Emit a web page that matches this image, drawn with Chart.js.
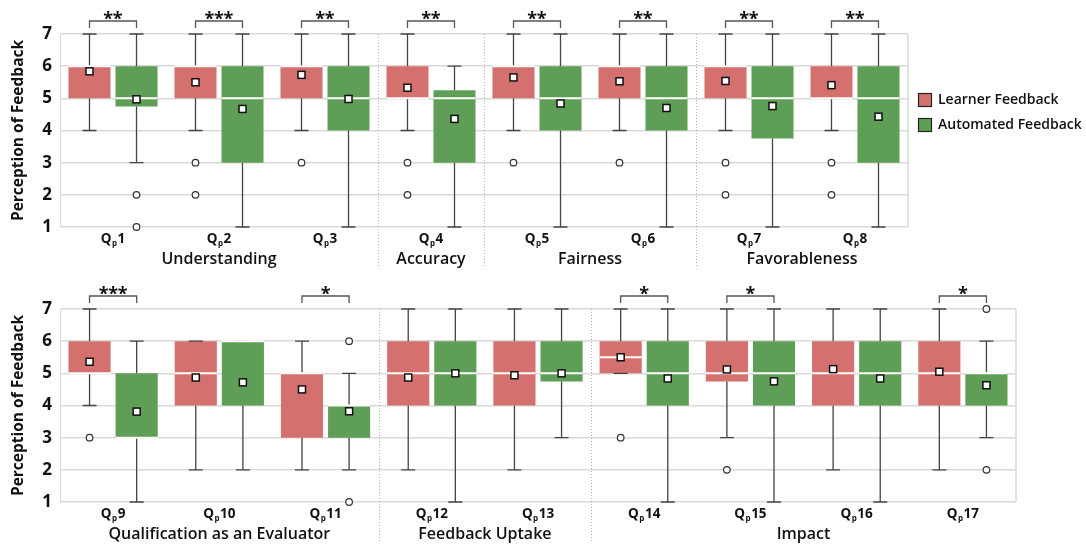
<!DOCTYPE html>
<html>
<head>
<meta charset="utf-8">
<script src="https://cdn.jsdelivr.net/npm/chart.js@4.4.1/dist/chart.umd.min.js"></script>
<style>
  body { margin: 0; background: #fff; }
  .panel { position: absolute; left: 0; width: 1086px; height: 270px; }
</style>
</head>
<body>
<div class="panel" style="top:0"><canvas id="topChart" width="1086" height="270"></canvas></div>
<div class="panel" style="top:275px"><canvas id="bottomChart" width="1086" height="270"></canvas></div>
<script>
// ---- data: top panel (Qp1 - Qp8) ----
var topQuestions = ['1', '2', '3', '4', '5', '6', '7', '8'];
var topGroupNames = ['Understanding', 'Accuracy', 'Fairness', 'Favorableness'];
var topGroupFirst = [0, 3, 4, 6];
var topGroupLast = [2, 3, 5, 7];
var topSignif = ['**', '***', '**', '**', '**', '**', '**', '**'];

var topLearnerQ1 = [5, 5, 5, 5, 5, 5, 5, 5];
var topLearnerMedian = [6, 6, 6, 5, 6, 6, 6, 5];
var topLearnerQ3 = [6, 6, 6, 6, 6, 6, 6, 6];
var topLearnerLow = [4, 4, 4, 4, 4, 4, 4, 4];
var topLearnerHigh = [7, 7, 7, 7, 7, 7, 7, 7];
var topLearnerMean = [5.84, 5.5, 5.73, 5.33, 5.65, 5.53, 5.54, 5.41];
var topLearnerOut = [[], [3, 2], [3], [3, 2], [3], [3], [3, 2], [3, 2]];

var topAutoQ1 = [4.75, 3, 4, 3, 4, 4, 3.75, 3];
var topAutoMedian = [5, 5, 5, 5, 5, 5, 5, 5];
var topAutoQ3 = [6, 6, 6, 5.25, 6, 6, 6, 6];
var topAutoLow = [3, 1, 1, 1, 1, 1, 1, 1];
var topAutoHigh = [7, 7, 7, 6, 7, 7, 7, 7];
var topAutoMean = [4.97, 4.67, 4.98, 4.36, 4.84, 4.70, 4.76, 4.43];
var topAutoOut = [[2, 1], [], [], [], [], [], [], []];

// ---- data: bottom panel (Qp9 - Qp17) ----
var botQuestions = ['9', '10', '11', '12', '13', '14', '15', '16', '17'];
var botGroupNames = ['Qualification as an Evaluator', 'Feedback Uptake', 'Impact'];
var botGroupFirst = [0, 3, 5];
var botGroupLast = [2, 4, 8];
var botSignif = ['***', '', '*', '', '', '*', '*', '', '*'];

var botLearnerQ1 = [5, 4, 3, 4, 4, 5, 4.75, 4, 4];
var botLearnerMedian = [5, 5, 5, 5, 5, 5.5, 5, 5, 5];
var botLearnerQ3 = [6, 6, 5, 6, 6, 6, 6, 6, 6];
var botLearnerLow = [4, 2, 2, 2, 2, 5, 3, 2, 2];
var botLearnerHigh = [7, 6, 6, 7, 7, 7, 7, 7, 7];
var botLearnerMean = [5.36, 4.87, 4.5, 4.87, 4.94, 5.5, 5.12, 5.13, 5.05];
var botLearnerOut = [[3], [], [], [], [], [3], [2], [], []];

var botAutoQ1 = [3, 4, 3, 4, 4.75, 4, 4, 4, 4];
var botAutoMedian = [3, 6, 4, 5, 5, 5, 5, 5, 5];
var botAutoQ3 = [5, 6, 4, 6, 6, 6, 6, 6, 5];
var botAutoLow = [1, 2, 2, 1, 3, 1, 1, 1, 3];
var botAutoHigh = [6, 6, 5, 7, 7, 7, 7, 7, 6];
var botAutoMean = [3.81, 4.72, 3.82, 5.0, 5.0, 4.84, 4.75, 4.84, 4.63];
var botAutoOut = [[], [], [6, 1], [], [], [], [], [], [7, 2]];

var yTicks = [1, 2, 3, 4, 5, 6, 7];

var RED = '#d4706d';
var GREEN = '#5f9e56';
var FONT = "'Open Sans', 'DejaVu Sans', sans-serif";

function pairs(a, b) {
    return a.map(function (v, i) { return [v, b[i]]; });
}

// whiskers, medians, means, outliers, brackets, labels
var boxExtras = {
    id: 'boxExtras',
    afterDatasetsDraw: function (chart) {
        var ctx = chart.ctx;
        var y = chart.scales.y;
        var ex = chart.options.plugins.boxExtras;
        var series = [ex.learner, ex.auto];
        ctx.save();
        series.forEach(function (s, d) {
            var meta = chart.getDatasetMeta(d);
            meta.data.forEach(function (bar, i) {
                var x = bar.x;
                var half = bar.width / 2;
                // whiskers
                ctx.strokeStyle = '#444';
                ctx.lineWidth = 1.3;
                ctx.beginPath();
                ctx.moveTo(x, y.getPixelForValue(s.q3[i]));
                ctx.lineTo(x, y.getPixelForValue(s.high[i]));
                ctx.moveTo(x, y.getPixelForValue(s.q1[i]));
                ctx.lineTo(x, y.getPixelForValue(s.low[i]));
                var yh = y.getPixelForValue(s.high[i]);
                var yl = y.getPixelForValue(s.low[i]);
                ctx.moveTo(x - 7, yh); ctx.lineTo(x + 7, yh);
                ctx.moveTo(x - 7, yl); ctx.lineTo(x + 7, yl);
                ctx.stroke();
                // median
                var ym = y.getPixelForValue(s.median[i]);
                ctx.strokeStyle = '#fff';
                ctx.lineWidth = 2;
                ctx.beginPath();
                ctx.moveTo(x - half, ym); ctx.lineTo(x + half, ym);
                ctx.stroke();
                // outliers
                ctx.strokeStyle = '#333';
                ctx.lineWidth = 1.2;
                ctx.fillStyle = '#fff';
                s.out[i].forEach(function (v) {
                    ctx.beginPath();
                    ctx.arc(x, y.getPixelForValue(v), 3.3, 0, Math.PI * 2);
                    ctx.fill();
                    ctx.stroke();
                });
                // mean
                var yMean = y.getPixelForValue(s.mean[i]);
                ctx.fillStyle = '#fff';
                ctx.strokeStyle = '#111';
                ctx.lineWidth = 1.5;
                ctx.fillRect(x - 3.5, yMean - 3.5, 7, 7);
                ctx.strokeRect(x - 3.5, yMean - 3.5, 7, 7);
            });
        });
        ctx.restore();
    },
    afterDraw: function (chart) {
        var ctx = chart.ctx;
        var area = chart.chartArea;
        var xs = chart.scales.x;
        var ex = chart.options.plugins.boxExtras;
        var m0 = chart.getDatasetMeta(0).data;
        var m1 = chart.getDatasetMeta(1).data;
        var step = xs.getPixelForValue(1) - xs.getPixelForValue(0);
        ctx.save();

        // frame right side + dotted group separators
        ctx.strokeStyle = '#d9d9d9';
        ctx.lineWidth = 1.5;
        ctx.beginPath();
        ctx.moveTo(area.right, area.top); ctx.lineTo(area.right, area.bottom);
        ctx.stroke();
        ctx.strokeStyle = '#b5b5b5';
        ctx.lineWidth = 1;
        ctx.setLineDash([1, 2]);
        ex.groupFirst.forEach(function (f) {
            if (f === 0) return;
            var sx = Math.round(xs.getPixelForValue(f) - step / 2) + 0.5;
            ctx.beginPath();
            ctx.moveTo(sx, area.top); ctx.lineTo(sx, area.bottom + 40);
            ctx.stroke();
        });
        ctx.setLineDash([]);

        // significance brackets
        ex.signif.forEach(function (s, i) {
            if (!s) return;
            var x1 = m0[i].x, x2 = m1[i].x;
            var yb = area.top - 13;
            ctx.strokeStyle = '#555';
            ctx.lineWidth = 1.3;
            ctx.beginPath();
            ctx.moveTo(x1, area.top - 6); ctx.lineTo(x1, yb);
            ctx.lineTo(x2, yb); ctx.lineTo(x2, area.top - 6);
            ctx.stroke();
            ctx.fillStyle = '#111';
            ctx.font = 'bold 18px ' + FONT;
            ctx.textAlign = 'center';
            ctx.textBaseline = 'alphabetic';
            var cx = (x1 + x2) / 2;
            for (var k = 0; k < s.length; k++) {
                ctx.fillText('*', cx + (k - (s.length - 1) / 2) * 9.5, area.top - 9);
            }
        });

        // category labels Q_p n
        ctx.fillStyle = '#111';
        ctx.textBaseline = 'alphabetic';
        ex.questions.forEach(function (q, i) {
            var cx = xs.getPixelForValue(i);
            ctx.font = 'bold 13.5px ' + FONT;
            var wQ = ctx.measureText('Q').width;
            var wN = ctx.measureText(q).width;
            ctx.font = 'bold 8px ' + FONT;
            var wP = ctx.measureText('p').width;
            var left = cx - (wQ + wP + 1 + wN) / 2;
            var base = area.bottom + 16;
            ctx.textAlign = 'left';
            ctx.font = 'bold 13.5px ' + FONT;
            ctx.fillText('Q', left, base);
            ctx.fillText(q, left + wQ + wP + 1, base);
            ctx.font = 'bold 8px ' + FONT;
            ctx.fillText('p', left + wQ + 0.5, base + 3);
        });

        // group labels
        ctx.font = '600 16px ' + FONT;
        ctx.textAlign = 'center';
        ctx.textBaseline = 'middle';
        ex.groupNames.forEach(function (g, k) {
            var cx = (xs.getPixelForValue(ex.groupFirst[k]) + xs.getPixelForValue(ex.groupLast[k])) / 2;
            ctx.fillText(g, cx, area.bottom + 32);
        });

        // legend (top panel only)
        if (ex.legend) {
            var names = ['Learner Feedback', 'Automated Feedback'];
            var cols = [RED, GREEN];
            ctx.font = '600 14px ' + FONT;
            ctx.textAlign = 'left';
            names.forEach(function (n, k) {
                var ly = area.top + 66 + k * 25;
                ctx.fillStyle = cols[k];
                ctx.fillRect(area.right + 10.5, ly - 6.5, 13, 13);
                ctx.strokeStyle = '#222';
                ctx.lineWidth = 1.2;
                ctx.strokeRect(area.right + 10.5, ly - 6.5, 13, 13);
                ctx.fillStyle = '#111';
                ctx.fillText(n, area.right + 30, ly);
            });
        }
        ctx.restore();
    }
};

function makePanel(id, questions, learner, auto, signif, groupNames, groupFirst, groupLast, rightPad, legend) {
    var ctx = document.getElementById(id);
    return new Chart(ctx, {
        type: 'bar',
        data: {
            labels: questions,
            datasets: [{
                label: 'Learner Feedback',
                data: pairs(learner.q1, learner.q3),
                backgroundColor: RED,
                borderWidth: 0,
                categoryPercentage: 0.887,
                barPercentage: 0.894
            }, {
                label: 'Automated Feedback',
                data: pairs(auto.q1, auto.q3),
                backgroundColor: GREEN,
                borderWidth: 0,
                categoryPercentage: 0.887,
                barPercentage: 0.894
            }]
        },
        options: {
            responsive: false,
            animation: false,
            layout: { padding: { top: 34, right: rightPad, left: 0, bottom: 0 } },
            scales: {
                x: {
                    ticks: { display: false },
                    grid: { display: false },
                    border: { display: false },
                    afterFit: function (s) { s.height = 43; }
                },
                y: {
                    min: 1,
                    max: 7,
                    afterBuildTicks: function (s) {
                        s.ticks = yTicks.map(function (v) { return { value: v }; });
                    },
                    ticks: {
                        padding: 8,
                        color: '#111',
                        font: { family: FONT, size: 17, weight: 'bold' }
                    },
                    grid: { color: '#d9d9d9', lineWidth: 1.5, drawTicks: false },
                    border: { color: '#d9d9d9' },
                    title: {
                        display: true,
                        text: 'Perception of Feedback',
                        color: '#111',
                        padding: { top: 9, bottom: 0 },
                        font: { family: FONT, size: 15.5, weight: 'bold' }
                    },
                    afterFit: function (s) { s.width = 60; }
                }
            },
            plugins: {
                legend: { display: false },
                tooltip: { enabled: false },
                boxExtras: {
                    learner: learner,
                    auto: auto,
                    signif: signif,
                    questions: questions,
                    groupNames: groupNames,
                    groupFirst: groupFirst,
                    groupLast: groupLast,
                    legend: legend
                }
            }
        },
        plugins: [boxExtras]
    });
}

makePanel('topChart', topQuestions,
    { q1: topLearnerQ1, median: topLearnerMedian, q3: topLearnerQ3, low: topLearnerLow, high: topLearnerHigh, mean: topLearnerMean, out: topLearnerOut },
    { q1: topAutoQ1, median: topAutoMedian, q3: topAutoQ3, low: topAutoLow, high: topAutoHigh, mean: topAutoMean, out: topAutoOut },
    topSignif, topGroupNames, topGroupFirst, topGroupLast, 178, true);

makePanel('bottomChart', botQuestions,
    { q1: botLearnerQ1, median: botLearnerMedian, q3: botLearnerQ3, low: botLearnerLow, high: botLearnerHigh, mean: botLearnerMean, out: botLearnerOut },
    { q1: botAutoQ1, median: botAutoMedian, q3: botAutoQ3, low: botAutoLow, high: botAutoHigh, mean: botAutoMean, out: botAutoOut },
    botSignif, botGroupNames, botGroupFirst, botGroupLast, 70, false);
</script>
</body>
</html>
